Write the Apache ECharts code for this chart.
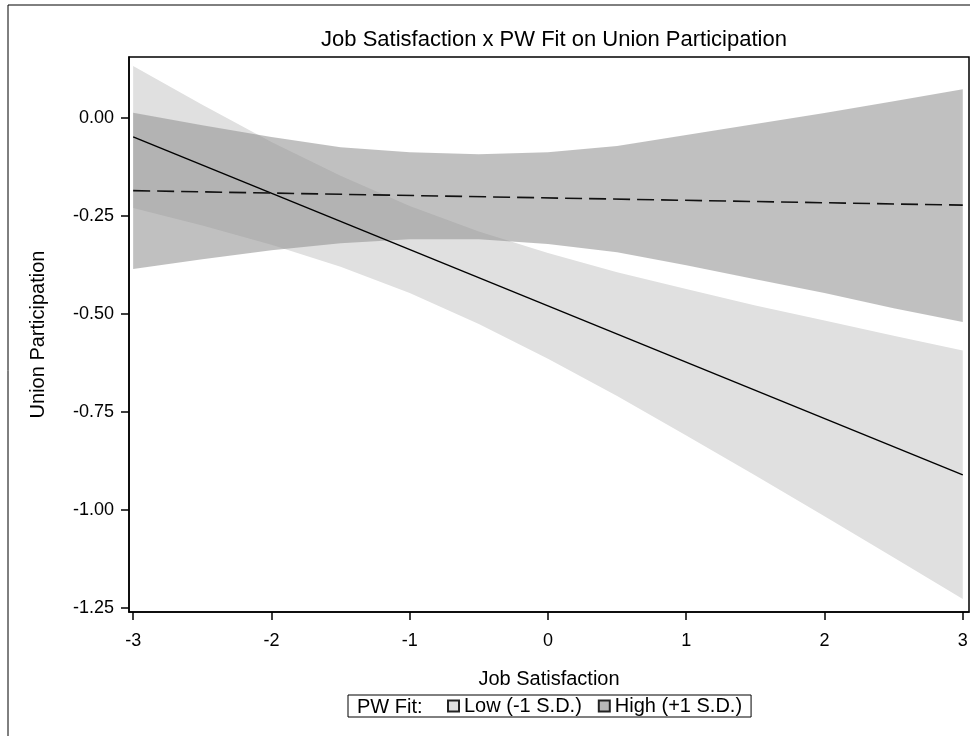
<!DOCTYPE html>
<html>
<head>
<meta charset="utf-8">
<script src="https://cdn.jsdelivr.net/npm/echarts@6/dist/echarts.min.js"></script>
<style>
  html, body { margin: 0; padding: 0; background: #fff; }
  #chart { width: 976px; height: 736px; }
</style>
</head>
<body>
<div id="chart"></div>
<script>
// values
const xValues = [-3, -2.5, -2, -1.5, -1, -0.5, 0, 0.5, 1, 1.5, 2, 2.5, 3]
const lowUpper = [0.133, 0.034, -0.061, -0.147, -0.224, -0.289, -0.344, -0.393, -0.436, -0.478, -0.516, -0.555, -0.593]
const lowLower = [-0.229, -0.274, -0.323, -0.379, -0.446, -0.525, -0.614, -0.709, -0.810, -0.912, -1.016, -1.121, -1.227]
const highUpper = [0.014, -0.018, -0.048, -0.074, -0.087, -0.092, -0.087, -0.071, -0.043, -0.015, 0.013, 0.043, 0.074]
const highLower = [-0.385, -0.360, -0.337, -0.319, -0.309, -0.309, -0.321, -0.342, -0.375, -0.411, -0.446, -0.485, -0.520]
const lowLine = [[-3, -0.048], [3, -0.910]]
const highLine = [[-3, -0.185], [3, -0.222]]
const xTicks = [-3, -2, -1, 0, 1, 2, 3]
const yTicks = [0, -0.25, -0.5, -0.75, -1, -1.25]

const FONT = "'Liberation Sans', Arial, sans-serif"
const LOW_FILL = '#e0e0e0'
const HIGH_FILL = 'rgba(146,146,146,0.58)'

const chart = echarts.init(document.getElementById('chart'))

const bandRenderer = (lower, upper, fill) => (params, api) => {
  const points = []
  xValues.forEach((x, i) => points.push(api.coord([x, upper[i]])))
  for (let i = xValues.length - 1; i >= 0; i--) {
    points.push(api.coord([xValues[i], lower[i]]))
  }
  return {
    type: 'polygon',
    shape: { points },
    style: { fill }
  }
}

chart.setOption({
  animation: false,
  title: {
    text: 'Job Satisfaction x PW Fit on Union Participation',
    left: 549,
    textAlign: 'center',
    top: 24,
    textStyle: { fontFamily: FONT, fontSize: 22, fontWeight: 'normal', color: '#000' }
  },
  graphic: [
    { type: 'line', shape: { x1: 8, y1: 5, x2: 970, y2: 5 }, style: { stroke: '#000', lineWidth: 1 } },
    { type: 'line', shape: { x1: 8, y1: 5, x2: 8, y2: 736 }, style: { stroke: '#000', lineWidth: 1 } },
    {
      type: 'text', left: 357, top: 697,
      style: { text: 'PW Fit:', font: '20px ' + FONT, fill: '#000' }
    }
  ],
  legend: {
    left: 348,
    top: 695,
    data: ['Low (-1 S.D.)', 'High (+1 S.D.)'],
    icon: 'rect',
    itemWidth: 11,
    itemHeight: 11,
    itemGap: 16,
    padding: [1, 9, 1, 99],
    borderColor: '#000',
    borderWidth: 1,
    selectedMode: false,
    textStyle: { fontFamily: FONT, fontSize: 20, color: '#000' }
  },
  grid: {
    left: 129,
    top: 57,
    right: 7,
    bottom: 124,
    show: true,
    borderColor: '#000',
    borderWidth: 1.5
  },
  xAxis: {
    type: 'value',
    min: -3.03,
    max: 3.045,
    name: 'Job Satisfaction',
    nameLocation: 'middle',
    nameGap: 57,
    nameTextStyle: { fontFamily: FONT, fontSize: 20, color: '#000' },
    axisLine: { show: true, onZero: false, lineStyle: { color: '#000', width: 1.5 } },
    axisTick: { show: true, length: 8, customValues: xTicks, lineStyle: { color: '#000', width: 1.5 } },
    axisLabel: {
      customValues: xTicks,
      margin: 20,
      fontFamily: FONT, fontSize: 18, color: '#000'
    },
    splitLine: { show: false }
  },
  yAxis: {
    type: 'value',
    min: -1.26,
    max: 0.156,
    name: 'Union Participation',
    nameLocation: 'middle',
    nameGap: 81,
    nameTextStyle: { fontFamily: FONT, fontSize: 20, color: '#000' },
    axisLine: { show: true, onZero: false, lineStyle: { color: '#000', width: 1.5 } },
    axisTick: { show: true, length: 8, customValues: yTicks, lineStyle: { color: '#000', width: 1.5 } },
    axisLabel: {
      customValues: yTicks,
      margin: 15,
      formatter: (v) => v.toFixed(2),
      fontFamily: FONT, fontSize: 18, color: '#000'
    },
    splitLine: { show: false }
  },
  series: [
    {
      name: 'Low (-1 S.D.)',
      type: 'custom',
      renderItem: bandRenderer(lowLower, lowUpper, LOW_FILL),
      data: [[0, 0]],
      itemStyle: { color: LOW_FILL, borderColor: '#222', borderWidth: 1 },
      z: 1
    },
    {
      name: 'High (+1 S.D.)',
      type: 'custom',
      renderItem: bandRenderer(highLower, highUpper, HIGH_FILL),
      data: [[0, 0]],
      itemStyle: { color: '#b8b8b8', borderColor: '#222', borderWidth: 1 },
      z: 2
    },
    {
      name: 'lowFit',
      type: 'line',
      data: lowLine,
      symbol: 'none',
      lineStyle: { color: '#000', width: 1.4 },
      z: 3
    },
    {
      name: 'highFit',
      type: 'line',
      data: highLine,
      symbol: 'none',
      lineStyle: { color: '#111', width: 1.6, type: [17, 7] },
      z: 3
    }
  ]
})
</script>
</body>
</html>
